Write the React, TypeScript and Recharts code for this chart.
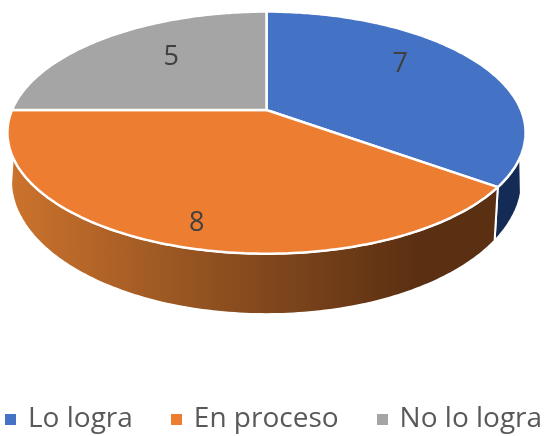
import { PieChart, Pie, Cell, Legend } from "recharts";

const categories = ["Lo logra", "En proceso", "No lo logra"];
const counts = [7, 8, 5];
const topColors = ["#4472c4", "#ed7d31", "#a5a5a5"];
const wallColors = ["#142c55", "url(#orangeWall)", "#777777"];

// how far out each number sits, across and along the tilted disc
const labelFactors = [
  [0.64, 1],
  [0.73, 0.82],
  [0.6, 0.76],
];

const rows = categories.map((name, i) => ({ name, value: counts[i] }));

// perspective of the disc
const TILT = 0.187;
const SQUASH = 0.459;
const CX = 266.5;
const CY = 110;
const RX = 254.5;

const project = (deg: number, r = 1, rx = RX, ry = RX * SQUASH, cy = CY) => {
  const rad = (deg * Math.PI) / 180;
  const u = Math.sin(rad) * r;
  const v = -Math.cos(rad) * r;
  const w = 1 - TILT * v;
  return [CX + (rx * u) / w, cy + (ry * v) / w];
};

const toPath = (pts: number[][]) =>
  pts.map((p, i) => `${i ? "L" : "M"}${p[0].toFixed(1)},${p[1].toFixed(1)}`).join("") + "Z";

const arc = (from: number, to: number, fn: (d: number) => number[]) => {
  const pts: number[][] = [];
  const steps = Math.max(2, Math.ceil(Math.abs(to - from)));
  for (let i = 0; i <= steps; i++) pts.push(fn(from + ((to - from) * i) / steps));
  return pts;
};

const TopFace = (props: any) => {
  const a = 90 - props.startAngle;
  const b = 90 - props.endAngle;
  const pts = [[CX, CY], ...arc(a, b, (d) => project(d))];
  return <path d={toPath(pts)} fill={props.fill} stroke="#ffffff" strokeWidth={2.5} strokeLinejoin="round" />;
};

const Wall = (props: any) => {
  const a = 90 - props.startAngle;
  const b = 90 - props.endAngle;
  // only the near part of the rim shows
  const from = Math.max(a, 112);
  const to = Math.min(b, 248);
  if (to <= from) return <g />;
  const low = (d: number) => project(d, 1, 251, 129, 155.5);
  const lowFrom = from === 112 ? 106 : from;
  const lowTo = to === 248 ? 258 : to;
  const pts = [...arc(from, to, (d) => project(d)), ...arc(lowTo, lowFrom, low)];
  return <path d={toPath(pts)} fill={props.fill} stroke="#ffffff" strokeWidth={2} strokeLinejoin="round" />;
};

const renderLabel = (props: any) => {
  const i = props.index;
  const rad = (((90 - props.midAngle) * Math.PI) / 180);
  const u = Math.sin(rad);
  const v = -Math.cos(rad);
  const w = 1 - TILT * v;
  const x = CX + (RX * u * labelFactors[i][0]) / w;
  const y = CY + (RX * SQUASH * v * labelFactors[i][1]) / w;
  return (
    <text x={x} y={y} textAnchor="middle" dominantBaseline="central" fill="#404040" fontSize={27} fontFamily="Open Sans">
      {counts[i]}
    </text>
  );
};

export default function App() {
  return (
    <div style={{ position: "absolute", left: 0, top: 0, width: 547, height: 436, filter: "blur(0.7px)" }}>
      <PieChart width={547} height={436} margin={{ top: 0, right: 0, bottom: 0, left: 0 }}>
        <defs>
          <linearGradient id="orangeWall" gradientUnits="userSpaceOnUse" x1="10" y1="0" x2="420" y2="0">
            <stop offset="0%" stopColor="#cc732d" />
            <stop offset="50%" stopColor="#8f5020" />
            <stop offset="100%" stopColor="#5a2f12" />
          </linearGradient>
        </defs>
        <Pie
          data={rows}
          dataKey="value"
          nameKey="name"
          cx={CX}
          cy={CY}
          outerRadius={RX}
          startAngle={90}
          endAngle={-270}
          legendType="none"
          shape={Wall}
          label={false}
          isAnimationActive={false}
        >
          {rows.map((r, i) => (
            <Cell key={r.name} fill={wallColors[i]} />
          ))}
        </Pie>
        <Pie
          data={rows}
          dataKey="value"
          nameKey="name"
          cx={CX}
          cy={CY}
          outerRadius={RX}
          startAngle={90}
          endAngle={-270}
          shape={TopFace}
          label={renderLabel}
          labelLine={false}
          isAnimationActive={false}
        >
          {rows.map((r, i) => (
            <Cell key={r.name} fill={topColors[i]} />
          ))}
        </Pie>
        <Legend
          layout="horizontal"
          align="left"
          verticalAlign="bottom"
          iconType="square"
          iconSize={11}
          itemSorter={null}
          wrapperStyle={{ left: 5, bottom: 1, width: 542, fontFamily: "Open Sans", fontSize: 28, whiteSpace: "nowrap" }}
          formatter={(value: string) => (
            <span style={{ color: "#595959", marginLeft: 8, marginRight: categories.indexOf(value) < 2 ? 28 : 0 }}>{value}</span>
          )}
        />
      </PieChart>
    </div>
  );
}
